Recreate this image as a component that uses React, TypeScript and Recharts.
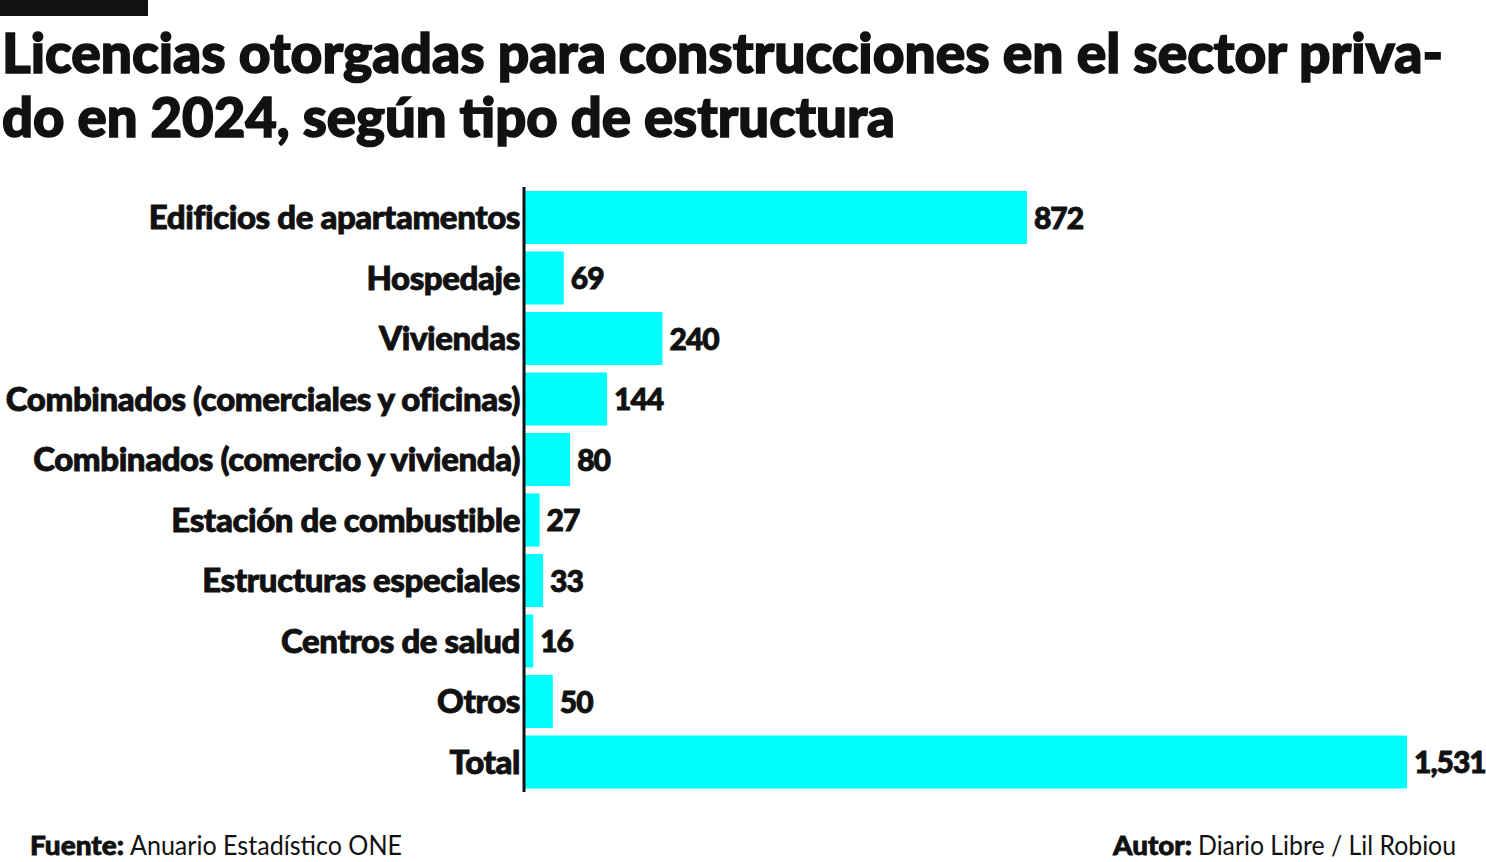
import React from 'react';
import { BarChart, Bar, XAxis, YAxis, LabelList } from 'recharts';

// Licencias otorgadas 2024, por tipo de estructura (sector privado)
const categories = [
  'Edificios de apartamentos',
  'Hospedaje',
  'Viviendas',
  'Combinados (comerciales y oficinas)',
  'Combinados (comercio y vivienda)',
  'Estación de combustible',
  'Estructuras especiales',
  'Centros de salud',
  'Otros',
  'Total',
];
const licencias = [872, 69, 240, 144, 80, 27, 33, 16, 50, 1531];

const data = categories.map((name, i) => ({ name, value: licencias[i] }));

const FONT = 'Lato, "Noto Sans", sans-serif';
const INK = '#111111';
const CYAN = '#00FFFF';

const CategoryTick = ({ x, y, payload }: any) => (
  <text
    x={x}
    y={y}
    textAnchor="end"
    dy="0.36em"
    fontFamily={FONT}
    fontWeight={900}
    fontSize={33}
    letterSpacing={-0.4}
    fill={INK}
    stroke={INK}
    strokeWidth={0.9}
  >
    {payload.value}
  </text>
);

const ValueLabel = ({ x, y, width, height, value }: any) => {
  const tx = Number(x) + Number(width) + 7;
  const ty = Number(y) + Number(height) / 2;
  return (
    <text
      x={tx}
      y={ty}
      dy="0.38em"
      fontFamily={FONT}
      fontWeight={900}
      fontSize={30}
      letterSpacing={-1}
      fill={INK}
      stroke={INK}
      strokeWidth={0.9}
    >
      {Number(value).toLocaleString('en-US')}
    </text>
  );
};

export default function App() {
  return (
    <div style={{ position: 'absolute', left: 0, top: 0, width: 1486, height: 862, background: '#fff', overflow: 'hidden' }}>
      <svg width={1486} height={862} style={{ position: 'absolute', left: 0, top: 0 }}>
        <rect x={0} y={0} width={148} height={16} fill={INK} />
        <g fontFamily={FONT} fontWeight={900} fontSize={56} fill={INK} stroke={INK} strokeWidth={1.6}>
          <text x={2} y={73} textLength={1441} lengthAdjust="spacingAndGlyphs">
            Licencias otorgadas para construcciones en el sector priva-
          </text>
          <text x={2} y={137} textLength={893} lengthAdjust="spacingAndGlyphs">
            do en 2024, según tipo de estructura
          </text>
        </g>
        <g fontFamily={FONT} fontSize={27} fill={INK}>
          <text x={30} y={855} fontWeight={900} stroke={INK} strokeWidth={0.8} textLength={94} lengthAdjust="spacingAndGlyphs">Fuente:</text>
          <text x={130} y={855} textLength={272} lengthAdjust="spacingAndGlyphs">Anuario Estadístico ONE</text>
          <text x={1113} y={855} fontWeight={900} stroke={INK} strokeWidth={0.8} textLength={79} lengthAdjust="spacingAndGlyphs">Autor:</text>
          <text x={1198} y={855} textLength={258} lengthAdjust="spacingAndGlyphs">Diario Libre / Lil Robiou</text>
        </g>
      </svg>
      <div style={{ position: 'absolute', left: 0, top: 0 }}>
        <BarChart
          width={1486}
          height={862}
          data={data}
          layout="vertical"
          margin={{ top: 187, right: 79, bottom: 70, left: 0 }}
        >
          <XAxis type="number" domain={[0, 1531]} hide />
          <YAxis
            type="category"
            dataKey="name"
            width={524}
            tickLine={false}
            tickSize={0}
            tickMargin={4}
            axisLine={{ stroke: INK, strokeWidth: 3 }}
            tick={<CategoryTick />}
            interval={0}
          />
          <Bar dataKey="value" fill={CYAN} barSize={53} isAnimationActive={false}>
            <LabelList dataKey="value" content={<ValueLabel />} />
          </Bar>
        </BarChart>
      </div>
    </div>
  );
}
